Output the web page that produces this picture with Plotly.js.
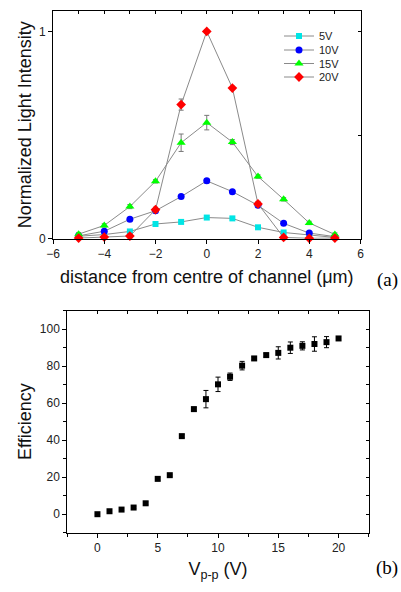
<!DOCTYPE html>
<html>
<head>
<meta charset="utf-8">
<script src="https://cdn.plot.ly/plotly-3.0.1.min.js"></script>
<style>html,body{margin:0;padding:0;background:#fff;}#chart{width:401px;height:592px;}</style>
</head>
<body>
<div id="chart"></div>
<script>
// ---- Panel (a): normalized light intensity vs distance ----
const distance = [-5, -4, -3, -2, -1, 0, 1, 2, 3, 4, 5];
const seriesNames = ['5V', '10V', '15V', '20V'];
const int5V  = [0.012, 0.020, 0.035, 0.071, 0.081, 0.102, 0.098, 0.055, 0.030, 0.017, 0.006];
const int10V = [0.014, 0.036, 0.094, 0.135, 0.203, 0.279, 0.227, 0.161, 0.074, 0.027, 0.010];
const int15V = [0.022, 0.064, 0.155, 0.277, 0.463, 0.560, 0.466, 0.300, 0.190, 0.076, 0.020];
const int20V = [0.003, 0.008, 0.013, 0.140, 0.647, 1.000, 0.727, 0.168, 0.006, 0.002, 0.003];
const err5V  = [0.004, 0.004, 0.005, 0.005, 0.005, 0.008, 0.006, 0.005, 0.004, 0.004, 0.004];
const err10V = [0.005, 0.006, 0.006, 0.008, 0.006, 0.010, 0.006, 0.006, 0.005, 0.005, 0.004];
const err15V = [0.008, 0.008, 0.010, 0.008, 0.042, 0.035, 0.012, 0.008, 0.008, 0.008, 0.008];
const err20V = [0.004, 0.004, 0.010, 0.012, 0.027, 0.008, 0.008, 0.012, 0.006, 0.004, 0.004];

// ---- Panel (b): efficiency vs Vp-p ----
const voltage = [0, 1, 2, 3, 4, 5, 6, 7, 8, 9, 10, 11, 12, 13, 14, 15, 16, 17, 18, 19, 20];
const efficiency = [0, 1.6, 2.5, 3.6, 5.9, 19.1, 21.1, 42.2, 56.8, 62.2, 70.2, 74.3, 80.3, 84.2, 86.0, 87.2, 90.0, 91.0, 92.0, 93.0, 95.0];
const effErr = [0.5, 0.5, 0.5, 0.5, 0.8, 0.8, 0.5, 0.8, 1.0, 4.7, 3.9, 2.0, 2.3, 0.8, 1.0, 3.3, 3.1, 2.2, 3.9, 3.0, 1.0];

const colors = ['#00e5e5', '#0000ff', '#00ff00', '#ff0000'];
const symbols = ['square', 'circle', 'triangle-up', 'diamond'];
const sizes = [6, 7, 8, 7.5];
const values = [int5V, int10V, int15V, int20V];
const errs = [err5V, err10V, err15V, err20V];
const legendIds = ['legend', 'legend2', 'legend3', 'legend4'];
const legendRowY = [36, 50, 63.5, 77];   // pixel centres of legend rows

const FONT = 'Arial, "Liberation Sans", sans-serif';
const NB = '\u00a0\u00a0\u00a0\u00a0';

const traces = seriesNames.map((name, i) => ({
  type: 'scatter', mode: 'lines+markers', name: name, legend: legendIds[i],
  x: distance, y: values[i], xaxis: 'x', yaxis: 'y',
  line: {color: '#8a8a8a', width: 1},
  marker: {color: colors[i], symbol: symbols[i], size: sizes[i], line: {width: 0}},
  error_y: {type: 'data', array: errs[i], visible: true, color: '#777', thickness: 1, width: 2.5},
  cliponaxis: false
}));

traces.push({
  type: 'scatter', mode: 'markers', name: 'Efficiency', showlegend: false,
  x: voltage, y: efficiency, xaxis: 'x2', yaxis: 'y2',
  marker: {color: '#000', symbol: 'square', size: 6},
  error_y: {type: 'data', array: effErr, visible: true, color: '#000', thickness: 1, width: 2.5},
  cliponaxis: false
});

// empty helper traces so the inside-tick overlay axes are drawn
traces.push({type: 'scatter', x: [], y: [], xaxis: 'x3', yaxis: 'y', showlegend: false, hoverinfo: 'skip'});
traces.push({type: 'scatter', x: [], y: [], xaxis: 'x', yaxis: 'y3', showlegend: false, hoverinfo: 'skip'});
traces.push({type: 'scatter', x: [], y: [], xaxis: 'x4', yaxis: 'y2', showlegend: false, hoverinfo: 'skip'});
traces.push({type: 'scatter', x: [], y: [], xaxis: 'x2', yaxis: 'y4', showlegend: false, hoverinfo: 'skip'});

const W = 401, H = 592;
const xdomA = [53 / W, 360.5 / W];
const ydomA = [1 - 238.7 / H, 1 - 10.7 / H];
const xdomB = [67.3 / W, 368.7 / W];
const ydomB = [1 - 532.7 / H, 1 - 310.7 / H];

const baseAxis = {
  showgrid: false, zeroline: false, showline: true, linecolor: '#000', linewidth: 1,
  mirror: true, ticks: 'outside', ticklen: 4, tickcolor: '#000', tickwidth: 1,
  tickfont: {family: FONT, size: 12, color: '#222'}, fixedrange: true
};
const overlayAxis = {
  showgrid: false, zeroline: false, showline: false, showticklabels: false,
  ticks: 'inside', ticklen: 3, tickcolor: '#000', tickwidth: 1, fixedrange: true
};

const layout = {
  width: W, height: H,
  margin: {l: 0, r: 0, t: 0, b: 0},
  paper_bgcolor: '#fff', plot_bgcolor: '#fff',
  showlegend: true,
  xaxis: Object.assign({}, baseAxis, {
    domain: xdomA, anchor: 'y', range: [-6, 6], tickvals: [-6, -4, -2, 0, 2, 4, 6],
    title: {text: 'distance from centre of channel (μm)', font: {family: FONT, size: 18, color: '#111'}, standoff: 10}
  }),
  yaxis: Object.assign({}, baseAxis, {
    domain: ydomA, anchor: 'x', range: [0, 1.1], tickvals: [0, 1], ticktext: ['0', '1'],
    title: {text: 'Normalized Light Intensity' + NB, font: {family: FONT, size: 18, color: '#111'}, standoff: 2}
  }),
  xaxis3: Object.assign({}, overlayAxis, {
    overlaying: 'x', side: 'top', anchor: 'y', range: [-6, 6], dtick: 1, tick0: 0
  }),
  yaxis3: Object.assign({}, overlayAxis, {
    overlaying: 'y', side: 'right', anchor: 'x', range: [0, 1.1], tickvals: [0, 0.5, 1]
  }),
  xaxis2: Object.assign({}, baseAxis, {
    domain: xdomB, anchor: 'y2', range: [-2.5, 22.5], tickvals: [0, 5, 10, 15, 20],
    minor: {dtick: 2.5, tick0: 0, ticks: 'outside', ticklen: 3, tickcolor: '#000'},
    title: {text: 'V<sub>p-p</sub> (V)', font: {family: FONT, size: 18, color: '#111'}, standoff: 8}
  }),
  yaxis2: Object.assign({}, baseAxis, {
    domain: ydomB, anchor: 'x2', range: [-10, 110], tickvals: [0, 20, 40, 60, 80, 100],
    minor: {dtick: 10, tick0: 0, ticks: 'outside', ticklen: 3, tickcolor: '#000'},
    title: {text: 'Efficiency' + NB, font: {family: FONT, size: 18, color: '#111'}, standoff: 3}
  }),
  xaxis4: Object.assign({}, overlayAxis, {
    overlaying: 'x2', side: 'top', anchor: 'y2', range: [-2.5, 22.5], dtick: 2.5, tick0: 0
  }),
  yaxis4: Object.assign({}, overlayAxis, {
    overlaying: 'y2', side: 'right', anchor: 'x2', range: [-10, 110], dtick: 10, tick0: 0
  }),
  annotations: [
    {text: '(a)', xref: 'paper', yref: 'paper', x: 400 / W, y: 1 - 280 / H, xanchor: 'right', showarrow: false,
     font: {family: '"Liberation Serif", "Times New Roman", serif', size: 19, color: '#000'}},
    {text: '(b)', xref: 'paper', yref: 'paper', x: 400 / W, y: 1 - 581 / H, xanchor: 'right', showarrow: false,
     font: {family: '"Liberation Serif", "Times New Roman", serif', size: 19, color: '#000'}}
  ]
};

legendIds.forEach((id, i) => {
  layout[id] = {x: 279 / W, y: 1 - legendRowY[i] / H, xanchor: 'left', yanchor: 'middle',
    bgcolor: 'rgba(0,0,0,0)', borderwidth: 0, itemwidth: 30,
    font: {family: FONT, size: 11, color: '#222'}};
});

Plotly.newPlot('chart', traces, layout, {displayModeBar: false, staticPlot: true});
</script>
</body>
</html>
